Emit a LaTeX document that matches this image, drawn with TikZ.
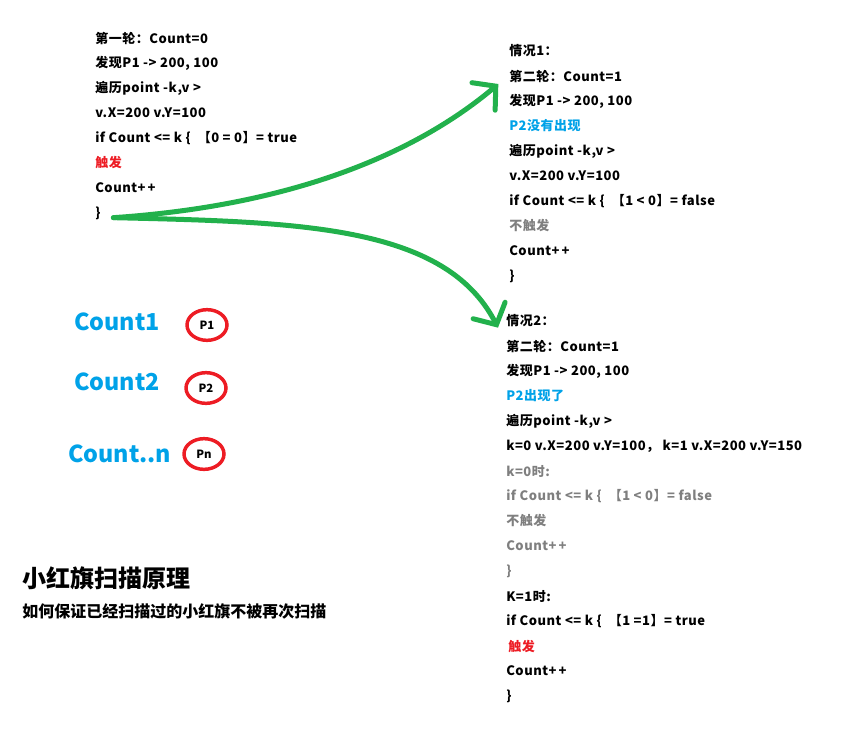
\documentclass[tikz,border=0pt]{standalone}
\usepackage{fontspec}
\usepackage{xcolor}
\usetikzlibrary{arrows.meta, shapes.geometric}
\newfontfamily\cjk{Noto Sans CJK SC}
\newfontfamily\cjkwide{Noto Sans CJK SC}[LetterSpace=4]

\definecolor{paintgreen}{RGB}{34,177,76}
\definecolor{paintblue}{RGB}{0,162,232}
\definecolor{paintred}{RGB}{237,28,36}
\definecolor{txtgray}{RGB}{127,127,127}

\begin{document}
\begin{tikzpicture}[x=0.75pt, y=-0.75pt,
  line/.style={anchor=west, inner sep=0pt, font=\cjkwide\bfseries\fontsize{9.75}{12}\selectfont},
  countlabel/.style={anchor=west, inner sep=0pt, text=paintblue, font=\cjk\bfseries\fontsize{17.5}{20}\selectfont},
  flag/.style={ellipse, draw=paintred, line width=2.6pt, minimum width=30pt, minimum height=23pt, inner sep=0pt, font=\cjk\bfseries\fontsize{8.5}{10}\selectfont},
  flow/.style={draw=paintgreen, line width=3.75pt, line cap=round, -{Straight Barb[length=12pt,width=27pt,line cap=round]}}]
\useasboundingbox (0,0) rectangle (845,735);

% first round
\foreach \t [count=\i] in {第一轮：Count=0, {发现P1 -> 200, 100}, {遍历point -k,v >}, v.X=200 v.Y=100,
    {if Count <= k \{ \ 【0 = 0】= true}, \textcolor{paintred}{触发}, Count+\,+, \}}
  \node[line] (a\i) at (95,{38+25*(\i-1)}) {\t};

% case 1
\foreach \t [count=\i] in {情况1：, 第二轮：Count=1, {发现P1 -> 200, 100}, \textcolor{paintblue}{P2没有出现},
    {遍历point -k,v >}, v.X=200 v.Y=100, {if Count <= k \{ \ 【1 < 0】= false},
    \textcolor{txtgray}{不触发}, Count+\,+, \}}
  \node[line] (b\i) at (509,{51+25*(\i-1)}) {\t};

% case 2
\foreach \t [count=\i] in {情况2：, 第二轮：Count=1, {发现P1 -> 200, 100}, \textcolor{paintblue}{P2出现了},
    {遍历point -k,v >}, {k=0 v.X=200 v.Y=100， k=1 v.X=200 v.Y=150},
    \textcolor{txtgray}{k=0时:}, \textcolor{txtgray}{if Count <= k \{ \ 【1 < 0】= false},
    \textcolor{txtgray}{不触发}, \textcolor{txtgray}{Count+\,+}, \textcolor{txtgray}{\}},
    K=1时:, {if Count <= k \{ \ 【1 =1】= true}, \,\textcolor{paintred}{触发}, Count+\,+, \}}
  \node[line] (c\i) at (506,{321+25*(\i-1)}) {\t};

% counters and flags
\node[countlabel] (cnt1) at (74,322) {Count1};
\node[countlabel] (cnt2) at (74,382) {Count2};
\node[countlabel] (cntn) at (68,454) {Count..n};
\node[flag] (p1) at (207,325) {P1};
\node[flag] (p2) at (206,388) {P2};
\node[flag] (pn) at (204,454) {Pn};

% title
\node[anchor=west, inner sep=0pt, font=\cjk\bfseries\fontsize{18}{20}\selectfont] (title) at (22,578) {小红旗扫描原理};
\node[anchor=west, inner sep=0pt, font=\cjk\bfseries\fontsize{12}{14}\selectfont] (subtitle) at (22,611) {如何保证已经扫描过的小红旗不被再次扫描};

% arrows
\draw[flow] ([xshift=9.5pt,yshift=-3.5pt]a8.east) .. controls (300,205) and (420,150) .. ([xshift=-8pt,yshift=-6pt]b2.west);
\draw[flow] ([xshift=9.5pt,yshift=-3.5pt]a8.east) .. controls (300,222) and (445,225) .. ([xshift=-6pt,yshift=-5pt]c1.west);
\end{tikzpicture}
\end{document}
